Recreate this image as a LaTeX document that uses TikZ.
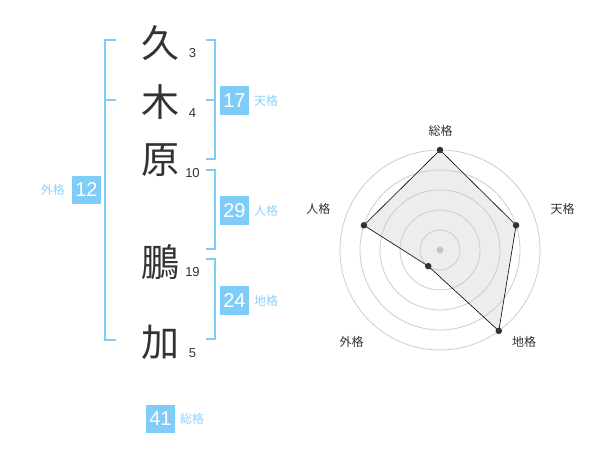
\documentclass[tikz,border=0pt]{standalone}
\usepackage{fontspec}
\setmainfont{Liberation Sans}
\newfontfamily\jp{Noto Sans CJK JP}
\usetikzlibrary{positioning}
\definecolor{sky}{HTML}{80CCF8}
\definecolor{skytext}{HTML}{8ED2F8}
\definecolor{ink}{HTML}{333333}
\tikzset{
  kanji/.style={text=ink,font=\jp\fontsize{38}{38}\selectfont,inner sep=0pt},
  strokes/.style={text=ink,font=\fontsize{13}{13}\selectfont,inner sep=0pt},
  bracket/.style={draw=sky,line width=2pt},
  kakubox/.style={fill=sky,text=white,minimum size=28.5pt,inner sep=0pt,font=\fontsize{20}{20}\selectfont},
  kakulabel/.style={text=skytext,font=\jp\fontsize{12}{12}\selectfont,inner sep=0pt},
  ring/.style={draw=black!20,line width=0.8pt},
  dot/.style={circle,fill=ink,inner sep=0pt,minimum size=6.5pt},
  axislabel/.style={text=ink,font=\jp\fontsize{12}{12}\selectfont,inner sep=0pt}
}

\begin{document}
\begin{tikzpicture}[x=1pt,y=1pt]
\useasboundingbox (0,0) rectangle (600,470);
% name and strokes
\node (c1) [kanji] at (160,427) {久};
\node (c2) [kanji] at (160,368) {木};
\node (c3) [kanji] at (160,310) {原};
\node (c4) [kanji] at (160,208) {鵬};
\node (c5) [kanji] at (160,128) {加};
\node (n1) [strokes] at (192.5,417) {3};
\node (n2) [strokes] at (192.5,357) {4};
\node (n3) [strokes] at (192.5,297) {10};
\node (n4) [strokes] at (192.5,198) {19};
\node (n5) [strokes] at (192.5,117) {5};
%
\draw[bracket] (116,430) -- (104.5,430) -- (104.5,130) -- (116,130);
\draw[bracket] (104.5,370) -- (116,370);
\draw[bracket] (205.5,430) -- (214.5,430) -- (214.5,311) -- (205.5,311);
\draw[bracket] (205.5,370) -- (214.5,370);
\draw[bracket] (205.5,300) -- (214.5,300) -- (214.5,221) -- (205.5,221);
\draw[bracket] (205.5,211) -- (214.5,211) -- (214.5,131) -- (205.5,131);
%
\node (gai) [kakubox] at (86.5,280) {12};
\node (gail) [kakulabel,left=7pt of gai] {外格};
\node (ten) [kakubox] at (234.5,369.5) {17};
\node (tenl) [kakulabel,right=5pt of ten] {天格};
\node (jin) [kakubox] at (234.5,259.5) {29};
\node (jinl) [kakulabel,right=5pt of jin] {人格};
\node (chi) [kakubox] at (234.5,169.5) {24};
\node (chil) [kakulabel,right=5pt of chi] {地格};
\node (sou) [kakubox] at (160.5,51) {41};
\node (soul) [kakulabel,right=5pt of sou] {総格};
% radar
\begin{scope}[shift={(440,220)}]
\coordinate (rsou) at (90:100);
\coordinate (rten) at (18:80);
\coordinate (rchi) at (-54:100);
\coordinate (rgai) at (-126:20);
\coordinate (rjin) at (162:80);
\fill[black!7] (rsou) -- (rten) -- (rchi) -- (rgai) -- (rjin) -- cycle;
\foreach \r in {20,40,...,100}
  \draw[ring] (0,0) circle (\r);
\node (mid) [circle,fill=black!22,inner sep=0pt,minimum size=7pt] at (0,0) {};
\draw[line width=0.6pt] (rsou) -- (rten) -- (rchi) -- (rgai) -- (rjin) -- cycle;
\node (dsou) [dot] at (rsou) {};
\node (dten) [dot] at (rten) {};
\node (dchi) [dot] at (rchi) {};
\node (dgai) [dot] at (rgai) {};
\node (djin) [dot] at (rjin) {};
\end{scope}
\node (asou) [axislabel] at (440.7,339.3) {総格};
\node (aten) [axislabel] at (562.7,261) {天格};
\node (ajin) [axislabel] at (318.3,261) {人格};
\node (agai) [axislabel] at (351.7,128) {外格};
\node (achi) [axislabel] at (524,128) {地格};
\end{tikzpicture}
\end{document}
